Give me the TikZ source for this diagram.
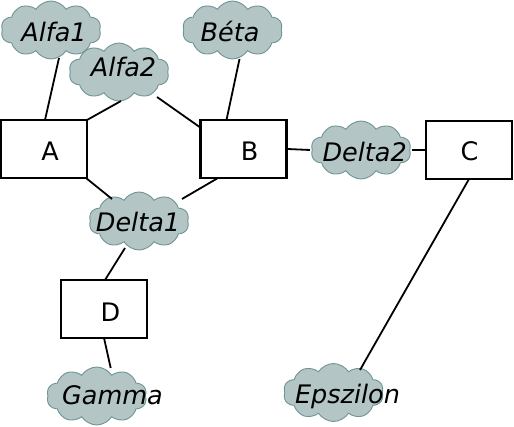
\documentclass[tikz,border=0pt]{standalone}
\usepackage{fontspec}
\setmainfont{DejaVu Sans}
\usetikzlibrary{shapes.symbols}
\definecolor{cloudfill}{HTML}{B4C5C6}
\definecolor{cloudline}{HTML}{6E9494}
\tikzset{
  box/.style={draw=black, line width=2.2pt, fill=white, minimum width=86pt, minimum height=58pt, inner sep=0pt},
  cl/.style={cloud, cloud puffs=10, cloud puff arc=115, cloud ignores aspect, draw=cloudline, line width=0.9pt, fill=cloudfill, minimum width=100pt, minimum height=58pt, inner sep=0pt},
  txt/.style={anchor=base, inner sep=0pt, font=\fontsize{25.5}{30}\selectfont},
  itxt/.style={txt, font=\fontsize{25.5}{30}\selectfont\itshape},
  conn/.style={draw=black, line width=1.8pt}
}
\begin{document}
\begin{tikzpicture}[x=1pt, y=-1pt]
\useasboundingbox (0,0) rectangle (514,427);
% boxes
\node[box] (A) at (44,149) {};
\node[box] (B) at (243.5,149) {};
\node[box] (C) at (469,150) {};
\node[box] (D) at (104,309) {};
% clouds
\node[cl] (alfa1) at (51,30) {};
\node[cl] (alfa2) at (119,72) {};
\node[cl] (beta) at (232.5,30) {};
\node[cl] (delta1) at (139,221) {};
\node[cl] (delta2) at (361,150) {};
\node[cl] (gamma) at (96.7,396) {};
\node[cl] (eps) at (333.5,392.5) {};
% texts
\node[txt] (At) at (50,161) {A};
\node[txt] (Bt) at (249.5,161) {B};
\node[txt] (Ct) at (469.5,160.5) {C};
\node[txt] (Dt) at (110.5,321.7) {D};
\node[itxt] (alfa1t) at (54,41.7) {Alfa1};
\node[itxt] (alfa2t) at (123.5,76.7) {Alfa2};
\node[itxt] (betat) at (230,41.7) {Béta};
\node[itxt] (delta1t) at (138,232) {Delta1};
\node[itxt] (delta2t) at (364.7,161.7) {Delta2};
\node[itxt] (gammat) at (112.5,405) {Gamma};
\node[itxt] (epst) at (347.5,403.6) {Epszilon};
% connectors
\draw[conn] ([shift={(8,28)}]alfa1.center) -- ([shift={(1,-29)}]A.center);
\draw[conn] ([shift={(2,29)}]alfa2.center) -- ([shift={(43,-29)}]A.center);
\draw[conn] ([shift={(38,25)}]alfa2.center) -- ([shift={(-43.5,-21.7)}]B.center);
\draw[conn] ([shift={(7,29)}]beta.center) -- ([shift={(-17,-29)}]B.center);
\draw[conn] ([shift={(42,29)}]A.center) -- ([shift={(-27,-22)}]delta1.center);
\draw[conn] ([shift={(-25.5,29)}]B.center) -- ([shift={(43,-22)}]delta1.center);
\draw[conn] ([shift={(-14,27)}]delta1.center) -- ([shift={(1,-29)}]D.center);
\draw[conn] ([shift={(0,29)}]D.center) -- ([shift={(14,-28)}]gamma.center);
\draw[conn] (B.east) -- ([shift={(-51,0)}]delta2.center);
\draw[conn] ([shift={(51,0)}]delta2.center) -- (C.west);
\draw[conn] ([shift={(0,29)}]C.center) -- ([shift={(26.5,-22.5)}]eps.center);
\end{tikzpicture}
\end{document}
